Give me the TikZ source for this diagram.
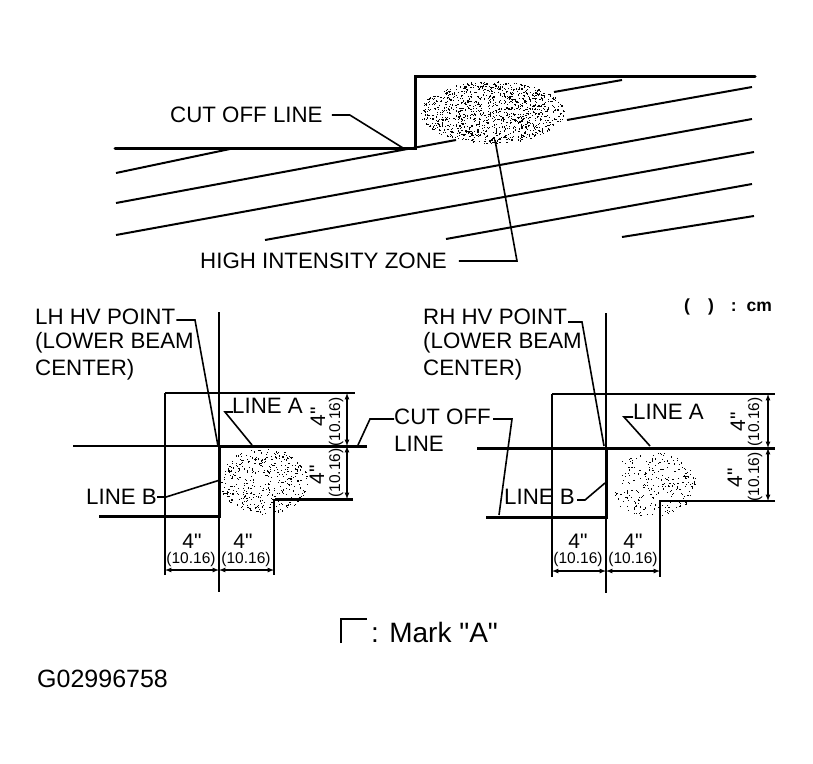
\documentclass[tikz,border=0pt]{standalone}
\usepackage{fontspec}
\setmainfont{Liberation Sans}[Ligatures=TeXOff]
\usetikzlibrary{calc}
\tikzstyle{line}=[line width=1.2pt]
\tikzstyle{box line}=[line width=2pt]
\tikzstyle{thick line}=[line width=3pt]
\tikzstyle{hatch}=[line width=2pt]
\tikzstyle{leader}=[line width=1.6pt]
\tikzstyle{arrow}=[line,<->,>=latex]
\tikzstyle{txt}=[inner sep=0pt,anchor=west,font=\fontsize{22.3}{22.3}\selectfont]
\tikzstyle{dimbig}=[inner sep=0pt,font=\fontsize{21}{21}\selectfont]
\tikzstyle{dimsmall}=[inner sep=0pt,font=\fontsize{15.5}{15.5}\selectfont]
% random dots inside an ellipse: cx, cy, rx, ry, number of dots
\newcommand{\stipple}[5]{
  \foreach \i in {1,...,#5} {
    \pgfmathsetmacro{\ang}{360*rnd}
    \pgfmathsetmacro{\rad}{sqrt(rnd)}
    \pgfmathsetmacro{\dotx}{#1+#3*\rad*cos(\ang)}
    \pgfmathsetmacro{\doty}{#2+#4*\rad*sin(\ang)}
    \fill (\dotx,\doty) rectangle ++(1.15,1.15);
  }
}
\begin{document}
\begin{tikzpicture}[x=1pt,y=-1pt]
  \useasboundingbox (0,0) rectangle (813,763);
  \pgfmathsetseed{4711}

  % top view
  \stipple{492}{112}{72}{31}{1150}
  \draw[thick line,line cap=round,line join=miter] (115,148) -- (415,148) -- (415,76) -- (755,76);
  \foreach \xa/\ya/\xb/\yb in {116/173/230/149, 116/203/456/140, 554/92/622/80, 567/120/752/87,
      116/235/752/119, 265/240/754/152, 446/239/752/184, 622/237/754/216} {
    \draw[hatch] (\xa,\ya) -- (\xb,\yb);
  }
  \node[txt] (CutTop) at (170,115) {CUT OFF LINE};
  \coordinate (CutTopEnd) at (403,148);
  \draw[leader] (CutTop.east) ++(9,0) -- ++(18,0) -- (CutTopEnd);
  \node[txt] (Zone) at (200,261) {HIGH INTENSITY ZONE};
  \coordinate (ZoneEnd) at (495,140);
  \draw[leader] (Zone.east) ++(12,0) -- (517,261) -- (ZoneEnd);

  % left panel
  \stipple{264}{481}{45}{33}{400}
  \draw[line] (219,312) -- (219,592);
  \draw[line] (165,575) -- (165,393);
  \draw[box line] (165,393) -- (355,393);
  \draw[line] (73,446) -- (219,446);
  \draw[thick line] (367,446) -- (219,446) -- (219,516) -- (99,516);
  \draw[thick line] (353,499) -- (275,499);
  \draw[line] (274,499) -- (274,575);
  \draw[arrow] (347,393) -- (347,446);
  \draw[arrow] (347,446) -- (347,499);
  \draw[arrow] (165,570) -- (219,570);
  \draw[arrow] (219,570) -- (274,570);
  \node[txt] (HvL) at (35,317) {LH HV POINT};
  \node[txt] at (35,343) {(LOWER BEAM};
  \node[txt] at (35,370) {CENTER)};
  \coordinate (HvLEnd) at (218,446);
  \draw[leader] (HvL.east) ++(1,3) -- (195,320) -- (HvLEnd);
  \node[txt] (LineAL) at (232,406) {LINE A};
  \coordinate (LineALEnd) at (252,445);
  \draw[leader] (LineAL.west) ++(1,6) -- ++(-8,0) -- (LineALEnd);
  \node[txt] (LineBL) at (86,497) {LINE B};
  \coordinate (LineBLEnd) at (220,480);
  \draw[leader] (LineBL.east) -- ++(9,0) -- (LineBLEnd);
  \node[dimbig,rotate=90] (DimLa) at (318,417) {4"};
  \node[dimsmall,rotate=90] (DimLb) at (336,422) {(10.16)};
  \node[dimbig,rotate=90] (DimLc) at (317,475) {4"};
  \node[dimsmall,rotate=90] (DimLd) at (336,473) {(10.16)};
  \node[dimbig] (DimLe) at (192,541) {4"};
  \node[dimsmall] (DimLf) at (191,559) {(10.16)};
  \node[dimbig] (DimLg) at (243,541) {4"};
  \node[dimsmall] (DimLh) at (246,559) {(10.16)};

  % cut off label between the panels
  \node[txt] (CutMid) at (394,417) {CUT OFF};
  \node[txt] at (394,444) {LINE};
  \coordinate (CutMidL) at (358,445);
  \coordinate (CutMidR) at (499,515);
  \draw[leader] (CutMid.west) ++(0,2) -- (370,419) -- (CutMidL);
  \draw[leader] (CutMid.east) ++(2,2) -- (512,419) -- (CutMidR);

  % right panel
  \stipple{653}{484}{44}{33}{250}
  \draw[line] (606,313) -- (606,593);
  \draw[line] (552,577) -- (552,394);
  \draw[box line] (552,394) -- (775,394);
  \draw[thick line] (477,448) -- (775,448);
  \draw[thick line] (606,448) -- (606,517) -- (486,517);
  \draw[line] (775,501) -- (660,501) -- (660,577);
  \draw[arrow] (768,394) -- (768,448);
  \draw[arrow] (768,448) -- (768,501);
  \draw[arrow] (552,571) -- (606,571);
  \draw[arrow] (606,571) -- (660,571);
  \node[txt] (HvR) at (423,317) {RH HV POINT};
  \node[txt] at (423,343) {(LOWER BEAM};
  \node[txt] at (423,370) {CENTER)};
  \coordinate (HvREnd) at (604,446);
  \draw[leader] (HvR.east) ++(1,5) -- (582,322) -- (HvREnd);
  \node[txt] (LineAR) at (633,412) {LINE A};
  \coordinate (LineAREnd) at (650,446);
  \draw[leader] (LineAR.west) ++(0,5) -- ++(-9,0) -- (LineAREnd);
  \node[txt] (LineBR) at (504,497) {LINE B};
  \coordinate (LineBREnd) at (605,483);
  \draw[leader] (LineBR.east) ++(2,3) -- (585,500) -- (LineBREnd);
  \node[dimbig,rotate=90] (DimRa) at (738,422) {4"};
  \node[dimsmall,rotate=90] (DimRb) at (755,422) {(10.16)};
  \node[dimbig,rotate=90] (DimRc) at (735,478) {4"};
  \node[dimsmall,rotate=90] (DimRd) at (755,477) {(10.16)};
  \node[dimbig] (DimRe) at (578,541) {4"};
  \node[dimsmall] (DimRf) at (578,559) {(10.16)};
  \node[dimbig] (DimRg) at (633,541) {4"};
  \node[dimsmall] (DimRh) at (633,559) {(10.16)};

  % unit note, mark and figure number
  \node[inner sep=0pt,anchor=west,font=\fontsize{17.5}{17.5}\selectfont\bfseries] (Unit) at (684,307) {(\hspace{18pt})\hspace{17pt}:\hspace{10pt}cm};
  \draw[line width=1.5pt] (341,643) -- (341,619) -- (367,619);
  \node[inner sep=0pt,anchor=west,font=\fontsize{28}{28}\selectfont] (Mark) at (371,632) {: Mark "A"};
  \node[inner sep=0pt,anchor=west,font=\fontsize{25}{25}\selectfont] (FigNo) at (37,679) {G02996758};
\end{tikzpicture}
\end{document}
